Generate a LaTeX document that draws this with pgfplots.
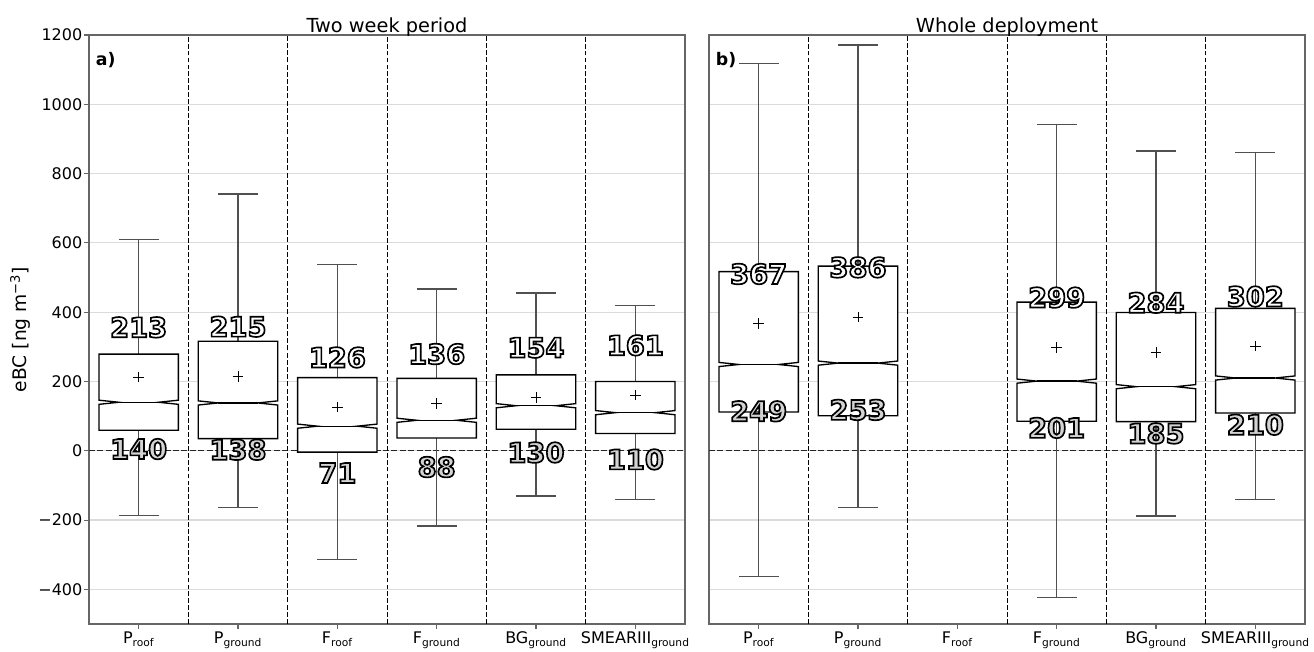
\documentclass[border=0pt]{standalone}
\usepackage{pgfplots}
\pgfplotsset{compat=1.18}
\usepackage{fontspec}
\setmainfont{DejaVu Sans}
\definecolor{medgray}{HTML}{D3D3D3}
\definecolor{whiskgray}{HTML}{505050}

% outlined text: fill in current colour, stroked in black (PDF text render mode 2)
\newcommand{\outl}[2]{{\color{#1}\special{pdf:literal direct 0 0 0 RG 1.25 w 2 Tr}#2\special{pdf:literal direct 0 Tr}}}

\pgfplotsset{
  panel/.style={
    scale only axis, width=447pt, height=441.75pt,
    xmin=-0.5, xmax=5.5, ymin=-500, ymax=1200,
    xtick={0,1,2,3,4,5},
    xticklabels={P\textsubscript{roof}, P\textsubscript{ground}, F\textsubscript{roof}, F\textsubscript{ground}, BG\textsubscript{ground}, SMEARIII\textsubscript{ground}},
    ytick={-400,-200,0,200,400,600,800,1000,1200},
    ymajorgrids, grid style={line width=0.9pt, black!14},
    axis line style={line width=0.9pt, black!60},
    tick style={line width=0.8pt, black!60},
    tick align=outside, major tick length=3.5pt,
    xtick pos=bottom, ytick pos=left,
    ticklabel style={font=\fontsize{12}{14}\selectfont},
    xticklabel style={yshift=1pt},
    yticklabel style={xshift=2pt},
    clip=false,
    title style={font=\fontsize{14.5}{16}\selectfont, at={(0.5,1)}, anchor=base, yshift=-4pt},
  },
  whisk/.style={whiskgray, line width=1pt, mark=none},
  boxst/.style={black, fill=white, line width=1pt, mark=none, line join=miter},
  medst/.style={black, line width=1pt, mark=none},
  meanst/.style={only marks, mark=+, mark size=4pt, black, mark options={line width=0.6pt}},
  thinsep/.style={black, line width=0.75pt, dash pattern=on 3.6pt off 1.6pt, mark=none},
  thicksep/.style={black, line width=1.1pt, dash pattern=on 3.8pt off 1.6pt, mark=none},
  zeroline/.style={black!85, line width=0.9pt, dash pattern=on 4.5pt off 1.8pt, mark=none},
}
\tikzset{
  meanlab/.style={font=\bfseries\fontsize{20.5}{22}\selectfont, anchor=center, inner sep=0pt, yshift=37.2pt},
  medlab/.style={font=\bfseries\fontsize{20.5}{22}\selectfont, anchor=center, inner sep=0pt, yshift=-35.1pt},
}

% #1 x, #2 lower whisker, #3 Q1, #4 median, #5 Q3, #6 upper whisker, #7 mean
\newcommand{\bp}[7]{%
  \pgfmathsetmacro{\xL}{#1-0.4}%
  \pgfmathsetmacro{\xR}{#1+0.4}%
  \pgfmathsetmacro{\xNL}{#1-0.2}%
  \pgfmathsetmacro{\xNR}{#1+0.2}%
  \pgfmathsetmacro{\mU}{#4+6}%
  \pgfmathsetmacro{\mD}{#4-6}%
  \edef\doplots{%
    \noexpand\addplot[whisk] coordinates {(#1,#2) (#1,#3)};
    \noexpand\addplot[whisk] coordinates {(\xNL,#2) (\xNR,#2)};
    \noexpand\addplot[whisk] coordinates {(#1,#5) (#1,#6)};
    \noexpand\addplot[whisk] coordinates {(\xNL,#6) (\xNR,#6)};
    \noexpand\addplot[boxst] coordinates {(\xL,#3) (\xL,\mD) (\xNL,#4) (\xL,\mU) (\xL,#5) (\xR,#5) (\xR,\mU) (\xNR,#4) (\xR,\mD) (\xR,#3)} -- cycle;
    \noexpand\addplot[medst] coordinates {(\xNL,#4) (\xNR,#4)};
    \noexpand\addplot[meanst] coordinates {(#1,#7)};
  }%
  \doplots
  \node[meanlab] at (axis cs:#1,#7) {\outl{white}{#7}};
  \node[medlab] at (axis cs:#1,#4) {\outl{medgray}{#4}};
}

\newcommand{\separators}{%
  \addplot[zeroline] coordinates {(-0.5,0) (5.5,0)};
  \addplot[thinsep] coordinates {(0.5,-500) (0.5,1200)};
  \addplot[thicksep] coordinates {(1.5,-500) (1.5,1200)};
  \addplot[thinsep] coordinates {(2.5,-500) (2.5,1200)};
  \addplot[thicksep] coordinates {(3.5,-500) (3.5,1200)};
  \addplot[thinsep] coordinates {(4.5,-500) (4.5,1200)};
}

\begin{document}
\begin{tikzpicture}
\path[use as bounding box] (-66.75pt,-20.25pt) rectangle (918.75pt,468pt);

\begin{axis}[panel, at={(0pt,0pt)}, anchor=south west,
  title={Two week period},
  yticklabels={−400,−200,0,200,400,600,800,1000,1200},
  ylabel={eBC [ng m\textsuperscript{−3}]},
  every axis y label/.style={at={(axis description cs:-0.1042,0.5)}, rotate=90, anchor=base, font=\fontsize{14}{16}\selectfont},
]
\separators
\bp{0}{-186}{59}{140}{279}{610}{213}
\bp{1}{-163}{35}{138}{316}{741}{215}
\bp{2}{-314}{-4}{71}{211}{538}{126}
\bp{3}{-217}{37}{88}{209}{467}{136}
\bp{4}{-131}{62}{130}{219}{455}{154}
\bp{5}{-140}{50}{110}{200}{420}{161}
\node[anchor=north west, inner sep=0pt, font=\bfseries\fontsize{13}{15}\selectfont, xshift=5pt, yshift=-13pt] at (rel axis cs:0,1) {a)};
\end{axis}

\begin{axis}[panel, at={(465pt,0pt)}, anchor=south west,
  title={Whole deployment},
  yticklabels={}, y tick style={draw=none},
]
\separators
\bp{0}{-362}{112}{249}{517}{1118}{367}
\bp{1}{-163}{101}{253}{533}{1171}{386}
\bp{3}{-423}{85}{201}{429}{941}{299}
\bp{4}{-188}{84}{185}{399}{865}{284}
\bp{5}{-141}{109}{210}{411}{861}{302}
\node[anchor=north west, inner sep=0pt, font=\bfseries\fontsize{13}{15}\selectfont, xshift=5pt, yshift=-13pt] at (rel axis cs:0,1) {b)};
\end{axis}
\end{tikzpicture}
\end{document}
